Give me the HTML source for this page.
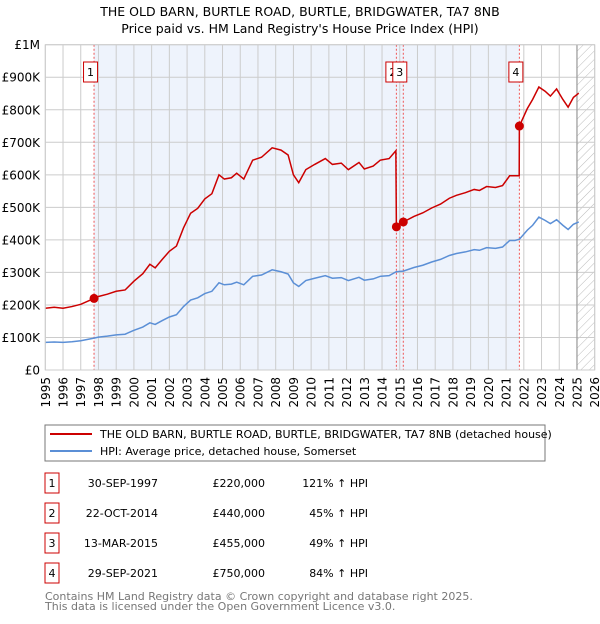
<!DOCTYPE html>
<html><head><meta charset="utf-8"><style>
body{margin:0;background:#fff;font-family:"DejaVu Sans","Liberation Sans",sans-serif}
svg text{font-family:"DejaVu Sans","Liberation Sans",sans-serif}
</style></head><body>
<svg id="c" width="600" height="620" xmlns="http://www.w3.org/2000/svg">
<defs><pattern id="hatch" width="6" height="6" patternUnits="userSpaceOnUse" patternTransform="rotate(45)"><line x1="0" y1="0" x2="0" y2="6" stroke="#bbb" stroke-width="1"/></pattern></defs>
<text x="300" y="16" text-anchor="middle" font-size="12.5">THE OLD BARN, BURTLE ROAD, BURTLE, BRIDGWATER, TA7 8NB</text>
<text x="300" y="33" text-anchor="middle" font-size="12.5">Price paid vs. HM Land Registry's House Price Index (HPI)</text>
<g id="plot"></g>
<g>
<rect x="45" y="425" width="500" height="36" fill="#fff" stroke="#777" stroke-width="1"/>
<line x1="50" y1="434" x2="92" y2="434" stroke="#cc0000" stroke-width="2"/>
<text x="100" y="438" font-size="11">THE OLD BARN, BURTLE ROAD, BURTLE, BRIDGWATER, TA7 8NB (detached house)</text>
<line x1="50" y1="451" x2="92" y2="451" stroke="#5b8fd6" stroke-width="2"/>
<text x="100" y="455" font-size="11">HPI: Average price, detached house, Somerset</text>
</g>
<g id="table" font-size="11"></g>
<text x="45" y="600" font-size="11" fill="#777">Contains HM Land Registry data © Crown copyright and database right 2025.</text>
<text x="45" y="610" font-size="11" fill="#777">This data is licensed under the Open Government Licence v3.0.</text>
</svg>
<script>
const hpiDates=[1995.0,1995.5,1996.0,1996.5,1997.0,1997.75,1998.0,1998.5,1999.0,1999.5,2000.0,2000.5,2000.9,2001.2,2001.6,2002.0,2002.4,2002.8,2003.2,2003.6,2004.0,2004.4,2004.8,2005.1,2005.5,2005.8,2006.2,2006.7,2007.2,2007.8,2008.3,2008.7,2009.0,2009.3,2009.7,2010.2,2010.8,2011.2,2011.7,2012.1,2012.7,2013.0,2013.5,2013.9,2014.4,2014.8,2015.2,2015.8,2016.3,2016.8,2017.3,2017.8,2018.2,2018.7,2019.2,2019.5,2019.9,2020.4,2020.8,2021.2,2021.5,2021.75,2022.2,2022.5,2022.85,2023.2,2023.5,2023.85,2024.2,2024.5,2024.8,2025.1];
const hpiValues=[85,86,85,87,90,98,101,104,108,110,122,132,145,140,152,163,170,195,215,222,235,242,268,262,264,270,262,288,292,308,302,295,268,257,275,282,290,282,284,275,285,276,280,288,290,302,304,315,322,332,340,352,358,363,370,368,376,374,378,398,398,402,430,445,470,460,450,462,445,432,448,455];
const priceDates=[1995.0,1995.5,1996.0,1996.5,1997.0,1997.75,1998.0,1998.5,1999.0,1999.5,2000.0,2000.5,2000.9,2001.2,2001.6,2002.0,2002.4,2002.8,2003.2,2003.6,2004.0,2004.4,2004.8,2005.1,2005.5,2005.8,2006.2,2006.7,2007.2,2007.8,2008.3,2008.7,2009.0,2009.3,2009.7,2010.2,2010.8,2011.2,2011.7,2012.1,2012.7,2013.0,2013.5,2013.9,2014.4,2014.78,2014.81,2015.2,2015.8,2016.3,2016.8,2017.3,2017.8,2018.2,2018.7,2019.2,2019.5,2019.9,2020.4,2020.8,2021.2,2021.5,2021.74,2021.75,2022.2,2022.5,2022.85,2023.2,2023.5,2023.85,2024.2,2024.5,2024.8,2025.1];
const priceValues=[190,193,190,195,202,220,226,233,242,246,273,296,325,314,340,365,381,437,482,497,526,542,600,587,591,605,587,645,654,683,676,661,600,576,616,632,650,632,636,616,638,618,627,645,650,674,440,455,472,483,498,510,528,537,545,555,552,564,561,567,597,597,597,750,804,832,870,857,842,864,832,808,838,851];
const saleLabels=["1","2","3","4"];
const saleDates=[1997.75,2014.81,2015.2,2021.75];
const saleValues=[220,440,455,750];
const saleDateText=["30-SEP-1997","22-OCT-2014","13-MAR-2015","29-SEP-2021"];
const salePriceText=["£220,000","£440,000","£455,000","£750,000"];
const salePctText=["121% ↑ HPI","45% ↑ HPI","49% ↑ HPI","84% ↑ HPI"];
const yTicks=[0,100,200,300,400,500,600,700,800,900,1000];
const yTickLabels=["£0","£100K","£200K","£300K","£400K","£500K","£600K","£700K","£800K","£900K","£1M"];
const xYears=[1995,1996,1997,1998,1999,2000,2001,2002,2003,2004,2005,2006,2007,2008,2009,2010,2011,2012,2013,2014,2015,2016,2017,2018,2019,2020,2021,2022,2023,2024,2025,2026];

const NS="http://www.w3.org/2000/svg";
const X0=45.3,X1=594.7,Y0=370,Y1=44.7;
const xs=t=>X0+(t-1995)*(X1-X0)/31;
const ys=v=>Y0-v*(Y0-Y1)/1000;
const plot=document.getElementById('plot');
function mk(tag,attrs,parent){const e=document.createElementNS(NS,tag);for(const k in attrs)e.setAttribute(k,attrs[k]);(parent||plot).appendChild(e);return e;}

let e;
e=mk('rect',{x:xs(saleDates[0]),y:Y1,width:xs(saleDates[3])-xs(saleDates[0]),height:Y0-Y1,fill:'#eef3fc'});


e=mk('rect',{x:xs(2025),y:Y1,width:X1-xs(2025),height:Y0-Y1,fill:'url(#hatch)'});


yTicks.forEach((v,i)=>{
  e=mk('line',{x1:X0,x2:X1,y1:ys(v),y2:ys(v),stroke:'#cccccc','stroke-width':1});
  
  
  e=mk('text',{x:40,y:ys(v)+4.5,'text-anchor':'end','font-size':12});
  e.textContent=yTickLabels[i];
  
  
});
xYears.forEach(yr=>{
  e=mk('line',{x1:xs(yr),x2:xs(yr),y1:Y1,y2:Y0,stroke:'#cccccc','stroke-width':1});
  
  
  const tx=xs(yr)+4.5, ty=377;
  e=mk('text',{x:tx,y:ty,'text-anchor':'end','font-size':12,transform:'rotate(-90 '+tx+' '+ty+')'});
  e.textContent=yr;
  
  
});
e=mk('line',{x1:xs(2025),x2:xs(2025),y1:Y1,y2:Y0,stroke:'#999','stroke-width':1.2});


saleDates.forEach((d,i)=>{
  e=mk('line',{x1:xs(d),x2:xs(d),y1:Y1,y2:Y0,stroke:'#ee5555','stroke-width':1,'stroke-dasharray':'2,2'});
  
  
});
e=mk('polyline',{points:hpiDates.map((d,i)=>xs(d)+','+ys(hpiValues[i])).join(' '),fill:'none',stroke:'#5b8fd6','stroke-width':1.5});


e=mk('polyline',{points:priceDates.map((d,i)=>xs(d)+','+ys(priceValues[i])).join(' '),fill:'none',stroke:'#cc0000','stroke-width':1.5});


saleDates.forEach((d,i)=>{
  e=mk('circle',{cx:xs(d),cy:ys(saleValues[i]),r:4.5,fill:'#cc0000'});
  
  
  const bx=xs(d)-10.5;
  e=mk('rect',{x:bx,y:62,width:14,height:20,fill:'#fff',stroke:'#cc0000','stroke-width':1});
  
  
  e=mk('text',{x:bx+7,y:76,'text-anchor':'middle','font-size':11});
  e.textContent=saleLabels[i];
  
  
});
e=mk('rect',{x:X0,y:Y1,width:X1-X0,height:Y0-Y1,fill:'none',stroke:'#cccccc','stroke-width':1});



const tbl=document.getElementById('table');
const rowY=[483,513,543,573];
saleLabels.forEach((l,i)=>{
  const cy=rowY[i];
  e=mk('rect',{x:45,y:cy-10,width:14,height:20,fill:'#fff',stroke:'#cc0000','stroke-width':1},tbl);
  
  
  e=mk('text',{x:52,y:cy+4,'text-anchor':'middle'},tbl);e.textContent=l;
  
  
  e=mk('text',{x:158,y:cy+4,'text-anchor':'end'},tbl);e.textContent=saleDateText[i];
  
  
  e=mk('text',{x:265,y:cy+4,'text-anchor':'end'},tbl);e.textContent=salePriceText[i];
  
  
  e=mk('text',{x:368,y:cy+4,'text-anchor':'end'},tbl);e.textContent=salePctText[i];
  
  
});
</script>
</body></html>
